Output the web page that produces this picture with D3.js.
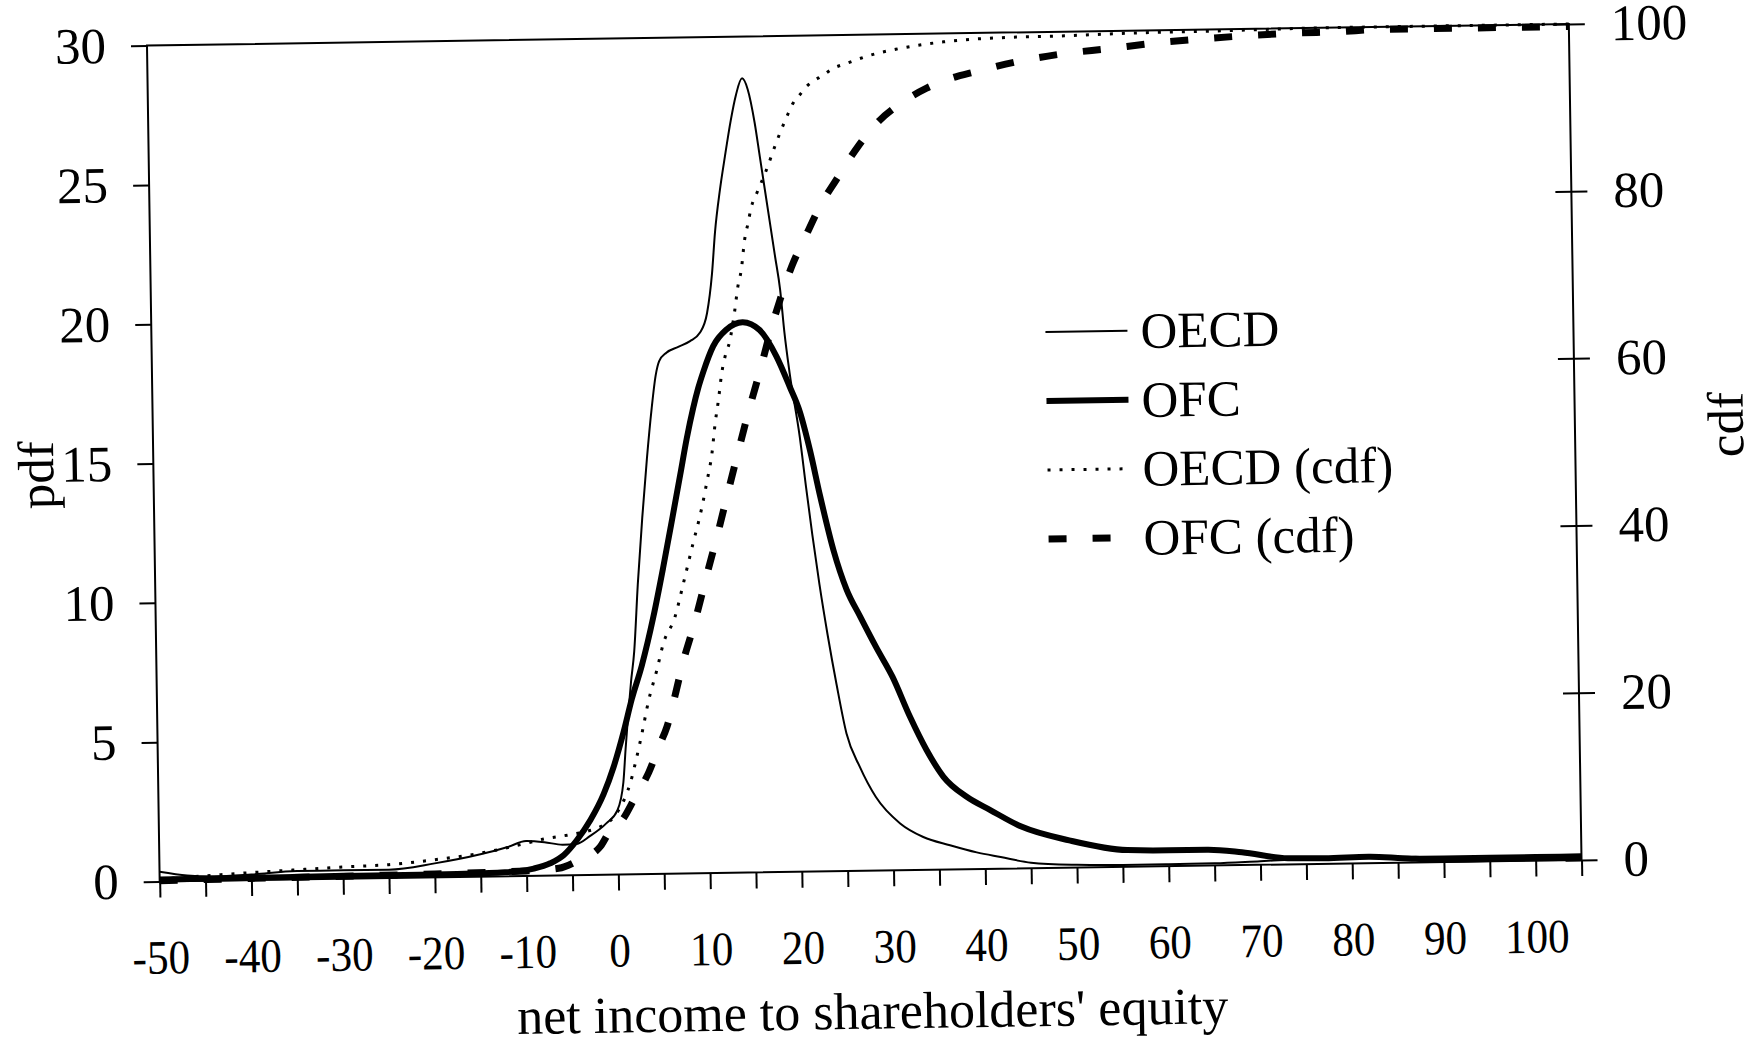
<!DOCTYPE html>
<html>
<head>
<meta charset="utf-8">
<script src="https://cdn.jsdelivr.net/npm/d3@7"></script>
<style>
  body { margin: 0; background: #fff; }
  svg { display: block; }
  text { font-family: "Liberation Serif", "Times New Roman", serif; fill: #000; }
</style>
</head>
<body>
<svg id="chart"></svg>
<script>
// x values (net income to shareholders' equity) and series
const oecdPdfX = [-50, -47, -44, -40, -35, -30, -25, -20, -15, -12, -10, -8, -6, -4.5, -3, -1.2, 0, 0.7, 1.0, 1.3, 1.7, 2.1, 2.6, 3.2, 3.8, 4.4, 4.9, 5.3, 6.1, 7.4, 8.7, 9.8, 10.6, 11.2, 11.6, 12.2, 12.8, 13.5, 14.1, 14.8, 15.4, 16.1, 16.6, 17.1, 17.6, 18.1, 18.6, 19.0, 19.5, 20.5, 21.1, 21.7, 22.4, 23.2, 24.1, 25.1, 26.5, 28.2, 30.8, 33.3, 36.2, 39.1, 41.7, 45, 50, 55, 60, 65, 70, 75, 80, 90, 100, 105];
const oecdPdf  = [0.35, 0.2, 0.15, 0.2, 0.3, 0.3, 0.3, 0.5, 0.8, 1.05, 1.25, 1.2, 1.1, 1.12, 1.4, 1.85, 2.3, 3.3, 4.5, 5.6, 6.9, 8.0, 10.4, 12.8, 14.9, 16.7, 17.9, 18.4, 18.7, 18.9, 19.1, 19.4, 20.1, 21.5, 23.0, 24.5, 25.7, 27.0, 27.9, 28.5, 28.1, 26.9, 25.7, 24.5, 23.3, 22.1, 20.9, 19.35, 17.9, 15.6, 13.8, 12.1, 10.3, 8.5, 6.7, 4.94, 3.73, 2.64, 1.68, 1.18, 0.87, 0.6, 0.42, 0.2, 0.1, 0.07, 0.07, 0.08, 0.13, 0.18, 0.2, 0.2, 0.2, 0.2];

const ofcPdfX = [-50, -40, -30, -20, -15, -12.8, -11, -9.2, -7.4, -5.9, -4.45, -2.95, -1.46, -0.33, 0.8, 1.75, 2.9, 4.26, 5.4, 6.5, 7.4, 8.17, 8.93, 9.5, 10.1, 11.2, 12.7, 14.45, 16.3, 18.1, 19.5, 20.55, 21.6, 22.6, 24.0, 25.35, 26.76, 28.5, 30.2, 32.05, 33.8, 35.6, 38.1, 40.6, 44, 49.2, 55.5, 60, 64.2, 68, 73, 77, 81.8, 85.5, 89.9, 95, 100, 105];
const ofcPdf  = [0.07, 0.08, 0.1, 0.1, 0.12, 0.14, 0.17, 0.26, 0.44, 0.73, 1.26, 1.97, 2.9, 3.87, 5.1, 6.28, 7.48, 9.25, 11.0, 12.8, 14.3, 15.6, 16.7, 17.4, 18.0, 18.9, 19.5, 19.75, 19.46, 18.5, 17.4, 16.5, 15.1, 13.5, 11.5, 10.1, 9.14, 8.0, 6.95, 5.5, 4.3, 3.33, 2.6, 2.12, 1.5, 0.98, 0.6, 0.57, 0.57, 0.46, 0.22, 0.2, 0.23, 0.16, 0.08, 0.08, 0.08, 0.08];

const oecdCdfX = [-50, -45, -40, -35, -30, -25, -20, -15, -10, -8, -5.5, -3.7, -2.2, -0.4, 0.9, 1.45, 2.04, 2.8, 3.6, 4.54, 5.3, 6.6, 7.57, 8.65, 9.7, 10.3, 10.9, 11.3, 11.7, 12.1, 12.5, 13.0, 13.6, 14.0, 14.4, 14.8, 15.2, 15.6, 16.2, 17.3, 18.4, 19.6, 20.3, 21.05, 21.8, 22.5, 23.6, 24.7, 26.2, 28.7, 31.6, 34.5, 36.8, 43.2, 50, 56.8, 66, 80, 105];
const oecdCdf  = [0.3, 0.6, 0.9, 1.15, 1.4, 1.6, 2.1, 2.8, 3.9, 4.4, 4.8, 5.15, 5.6, 6.9, 9.3, 10.9, 13.3, 16.8, 20.8, 24.4, 27.6, 30.7, 34.7, 39.3, 43.7, 46.8, 50.2, 53.8, 56.6, 59.8, 61.8, 63.5, 67.1, 70.1, 72.1, 75.6, 77.6, 79.6, 81.2, 84.0, 87.2, 90.3, 91.9, 92.9, 93.9, 94.5, 95.2, 96.0, 96.6, 97.5, 98.2, 98.7, 99.0, 99.4, 99.5, 99.7, 99.8, 100, 100];

const ofcCdfX = [-50, -40, -30, -20, -10, -6.5, -4.3, -1.9, -0.8, 0.5, 2.0, 3.5, 4.7, 5.55, 6.5, 7.46, 8.6, 9.56, 10.3, 11.3, 12.6, 13.8, 15.0, 16.3, 17.4, 18.56, 19.9, 21.6, 23.05, 24.9, 27.3, 29.7, 32.3, 34.9, 38.1, 40, 44.8, 49.4, 54.9, 60.2, 65.3, 70, 74.8, 79.9, 84.5, 90, 100, 105];
const ofcCdf  = [0.1, 0.2, 0.3, 0.4, 0.6, 0.86, 1.8, 3.4, 5.3, 6.5, 9.3, 12.2, 15.4, 17.6, 21.4, 25.5, 29.5, 33.3, 36.3, 40.2, 45.6, 50.5, 55.3, 60.1, 64.4, 68.4, 72.4, 76.3, 79.5, 82.7, 86.6, 89.7, 91.9, 93.5, 94.8, 95.3, 96.5, 97.3, 97.9, 98.5, 98.9, 99.2, 99.4, 99.5, 99.7, 99.7, 99.7, 99.7];

const xTicks = d3.range(-50, 106, 5);
const pdfTicks = [0, 5, 10, 15, 20, 25, 30];
const cdfTicks = [0, 20, 40, 60, 80, 100];

const legendItems = [
  { label: "OECD", width: 2, dash: null },
  { label: "OFC", width: 6, dash: null },
  { label: "OECD (cdf)", width: 3, dash: "3,9" },
  { label: "OFC (cdf)", width: 7, dash: "18,26" }
];

const W = 1754, H = 1045;
const width = 1422, height = 836;
const ox = 153.25, oy = 34.75;           // plot origin before tilt
const cx = ox + width / 2, cy = oy + height / 2;
const tilt = -0.87;                      // scanned page is slightly rotated
const fontSize = 51;

const svg = d3.select("#chart").attr("width", W).attr("height", H);
svg.append("rect").attr("width", W).attr("height", H).attr("fill", "#fff");

const chart = svg.append("g")
    .attr("transform", `rotate(${tilt} ${cx} ${cy})`)
  .append("g")
    .attr("transform", `translate(${ox},${oy})`);

const x = d3.scaleLinear().domain([-50, 105]).range([0, width]);
const yPdf = d3.scaleLinear().domain([0, 30]).range([height, 0]);
const yCdf = d3.scaleLinear().domain([0, 100]).range([height, 0]);

// frame
chart.append("rect")
    .attr("width", width).attr("height", height)
    .attr("fill", "none").attr("stroke", "#000").attr("stroke-width", 2);

// x axis
const xAxisG = chart.append("g")
    .attr("transform", `translate(0,${height})`)
    .call(d3.axisBottom(x).tickValues(xTicks).tickSizeInner(16).tickSizeOuter(0).tickPadding(42)
      .tickFormat(d => (d % 10 === 0 && d <= 100) ? d : ""));

// left axis
const yAxisG = chart.append("g")
    .call(d3.axisLeft(yPdf).tickValues(pdfTicks).tickSizeInner(16).tickSizeOuter(0).tickPadding(25));

// right axis (ticks cross the line)
const y2AxisG = chart.append("g")
    .attr("transform", `translate(${width},0)`)
    .call(d3.axisRight(yCdf).tickValues(cdfTicks).tickSizeInner(16).tickSizeOuter(0).tickPadding(26));
y2AxisG.selectAll(".tick line").attr("x1", -16).attr("x2", 16);

[xAxisG, yAxisG, y2AxisG].forEach(g => {
  g.select(".domain").remove();
  g.selectAll(".tick line").attr("stroke", "#000").attr("stroke-width", 2);
  g.selectAll(".tick text")
    .style("font-family", '"Liberation Serif", "Times New Roman", serif')
    .style("font-size", fontSize + "px")
    .attr("fill", "#000");
});
// drop the blank labels of the 5-step ticks; scanned x labels are a little condensed
xAxisG.selectAll(".tick text").filter(function() { return this.textContent === ""; }).remove();
xAxisG.selectAll(".tick text").style("font-size", "48px").attr("transform", "scale(0.9,1)");

// axis titles
chart.append("text")
    .attr("x", width / 2).attr("y", height + 158)
    .attr("text-anchor", "middle")
    .style("font-size", "52px")
    .text("net income to shareholders' equity");

chart.append("text")
    .attr("transform", `translate(-100,${height / 2 + 10}) rotate(-90)`)
    .attr("text-anchor", "middle")
    .style("font-size", fontSize + "px")
    .text("pdf");

chart.append("text")
    .attr("transform", `translate(${width + 168},${height / 2 - 15}) rotate(-90)`)
    .attr("text-anchor", "middle")
    .style("font-size", fontSize + "px")
    .text("cdf");

// series
const zip = (xs, ys) => xs.map((v, i) => [v, ys[i]]);
const linePdf = d3.line().x(d => x(d[0])).y(d => yPdf(d[1])).curve(d3.curveMonotoneX);
const lineCdf = d3.line().x(d => x(d[0])).y(d => yCdf(d[1])).curve(d3.curveMonotoneX);

chart.append("path").datum(zip(oecdCdfX, oecdCdf))
    .attr("d", lineCdf).attr("fill", "none").attr("stroke", "#000")
    .attr("stroke-width", 3).attr("stroke-dasharray", "3,9");

chart.append("path").datum(zip(ofcCdfX, ofcCdf))
    .attr("d", lineCdf).attr("fill", "none").attr("stroke", "#000")
    .attr("stroke-width", 7).attr("stroke-dasharray", "18,26");

chart.append("path").datum(zip(oecdPdfX, oecdPdf))
    .attr("d", linePdf).attr("fill", "none").attr("stroke", "#000")
    .attr("stroke-width", 2);

chart.append("path").datum(zip(ofcPdfX, ofcPdf))
    .attr("d", linePdf).attr("fill", "none").attr("stroke", "#000")
    .attr("stroke-width", 6).attr("stroke-linejoin", "round");

// legend
const legend = chart.append("g").attr("transform", "translate(894,300)");
const rows = legend.selectAll("g").data(legendItems).enter().append("g")
    .attr("transform", (d, i) => `translate(0,${i * 69})`);
rows.append("line")
    .attr("x1", 0).attr("x2", 82)
    .attr("stroke", "#000")
    .attr("stroke-width", d => d.width)
    .attr("stroke-dasharray", d => d.dash);
rows.append("text")
    .attr("x", 95).attr("dy", "0.34em")
    .style("font-size", fontSize + "px")
    .text(d => d.label);
</script>
</body>
</html>
